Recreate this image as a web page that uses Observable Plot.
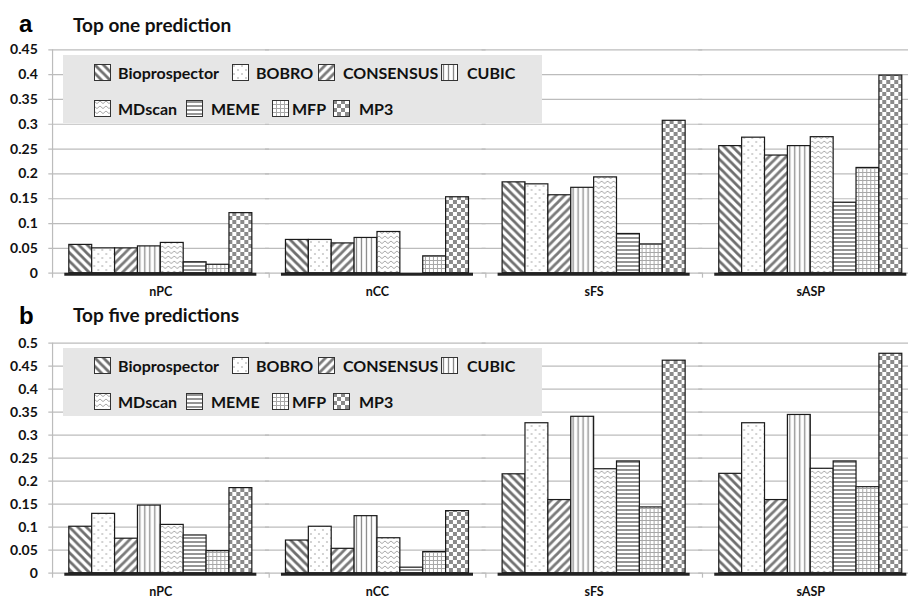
<!DOCTYPE html>
<html>
<head>
<meta charset="utf-8">
<script src="https://cdn.jsdelivr.net/npm/d3@7"></script>
<script src="https://cdn.jsdelivr.net/npm/@observablehq/plot@0.6"></script>
<style>
  body { margin: 0; background: #fff; }
  #root { position: relative; width: 908px; height: 601px; overflow: hidden; font-family: Lato, "Open Sans", sans-serif; }
  .panel { position: absolute; left: 0; }
  .letter { position: absolute; font-family: "Liberation Sans", Arial, sans-serif; font-weight: bold; font-size: 24px; line-height: 1; }
  .title { position: absolute; font-family: Lato, sans-serif; font-weight: bold; font-size: 19px; line-height: 1; color: #111; }
  .legend { position: absolute; left: 63px; width: 479px; height: 68px; background: #e6e6e6; }
  .item { position: absolute; font-family: Lato, sans-serif; font-weight: bold; font-size: 16px; line-height: 16px; color: #111; white-space: nowrap; }
  .sw { position: absolute; }
</style>
</head>
<body>
<svg width="0" height="0" style="position:absolute">
  <defs>
    <pattern id="p0" patternUnits="userSpaceOnUse" width="8.5" height="8.5">
      <rect width="8.5" height="8.5" fill="#fff"/>
      <path d="M-4.25,4.25 L4.25,12.75 M0,0 L8.5,8.5 M4.25,-4.25 L12.75,4.25" stroke="#6e6e6e" stroke-width="2.8"/>
    </pattern>
    <pattern id="p1" patternUnits="userSpaceOnUse" width="8" height="8">
      <rect width="8" height="8" fill="#fff"/>
      <circle cx="2" cy="2" r="0.8" fill="#9a9a9a"/>
      <circle cx="6" cy="6" r="0.8" fill="#9a9a9a"/>
    </pattern>
    <pattern id="p2" patternUnits="userSpaceOnUse" width="8.5" height="8.5">
      <rect width="8.5" height="8.5" fill="#fff"/>
      <path d="M-4.25,4.25 L4.25,-4.25 M0,8.5 L8.5,0 M4.25,12.75 L12.75,4.25" stroke="#7a7a7a" stroke-width="2.8"/>
    </pattern>
    <pattern id="p3" patternUnits="userSpaceOnUse" width="5" height="5">
      <rect width="5" height="5" fill="#fff"/>
      <path d="M2.5,0 L2.5,5" stroke="#8a8a8a" stroke-width="1.3"/>
    </pattern>
    <pattern id="p4" patternUnits="userSpaceOnUse" width="6" height="5">
      <rect width="6" height="5" fill="#fff"/>
      <path d="M0,1 L3,3.6 L6,1" stroke="#a8a8a8" stroke-width="1" fill="none"/>
    </pattern>
    <pattern id="p5" patternUnits="userSpaceOnUse" width="4" height="4">
      <rect width="4" height="4" fill="#fff"/>
      <path d="M0,2 L4,2" stroke="#7a7a7a" stroke-width="1.6"/>
    </pattern>
    <pattern id="p6" patternUnits="userSpaceOnUse" width="4" height="4">
      <rect width="4" height="4" fill="#fff"/>
      <path d="M0,0.5 L4,0.5 M0.5,0 L0.5,4" stroke="#a8a8a8" stroke-width="1"/>
    </pattern>
    <pattern id="p7" patternUnits="userSpaceOnUse" width="8" height="8">
      <rect width="8" height="8" fill="#fff"/>
      <rect x="0" y="0" width="4" height="4" fill="#8a8a8a"/>
      <rect x="4" y="4" width="4" height="4" fill="#8a8a8a"/>
    </pattern>
  </defs>
</svg>
<div id="root">
  <div id="pa" class="panel" style="top:0"></div>
  <div id="pb" class="panel" style="top:300px"></div>
  <div class="letter" style="left:19px;top:12px">a</div>
  <div class="title" style="left:73px;top:15px">Top one prediction</div>
  <div class="letter" style="left:19px;top:304px">b</div>
  <div class="title" style="left:73px;top:305px">Top five predictions</div>
  <div id="lega" class="legend" style="top:55px"></div>
  <div id="legb" class="legend" style="top:348px"></div>
</div>
<script>
const groups = ["nPC", "nCC", "sFS", "sASP"];
const methods = ["Bioprospector", "BOBRO", "CONSENSUS", "CUBIC", "MDscan", "MEME", "MFP", "MP3"];

// Panel a: top one prediction
const topOne_nPC  = [0.057, 0.050, 0.050, 0.054, 0.061, 0.022, 0.017, 0.121];
const topOne_nCC  = [0.067, 0.067, 0.060, 0.071, 0.083, 0.000, 0.034, 0.153];
const topOne_sFS  = [0.183, 0.179, 0.157, 0.172, 0.193, 0.079, 0.058, 0.307];
const topOne_sASP = [0.256, 0.273, 0.237, 0.256, 0.274, 0.142, 0.212, 0.398];

// Panel b: top five predictions
const topFive_nPC  = [0.101, 0.129, 0.075, 0.147, 0.105, 0.082, 0.048, 0.185];
const topFive_nCC  = [0.071, 0.101, 0.053, 0.124, 0.076, 0.012, 0.046, 0.135];
const topFive_sFS  = [0.215, 0.326, 0.159, 0.340, 0.226, 0.243, 0.143, 0.462];
const topFive_sASP = [0.216, 0.326, 0.159, 0.344, 0.227, 0.243, 0.187, 0.477];

const ticksA = [0, 0.05, 0.1, 0.15, 0.2, 0.25, 0.3, 0.35, 0.4, 0.45];
const tickLabelsA = ["0", "0.05", "0.1", "0.15", "0.2", "0.25", "0.3", "0.35", "0.4", "0.45"];
const ticksB = [0, 0.05, 0.1, 0.15, 0.2, 0.25, 0.3, 0.35, 0.4, 0.45, 0.5];
const tickLabelsB = ["0", "0.05", "0.1", "0.15", "0.2", "0.25", "0.3", "0.35", "0.4", "0.45", "0.5"];

const patternIds = methods.map((m, i) => `url(#p${i})`);

function rows(seriesList) {
  const out = [];
  groups.forEach((g, gi) => methods.forEach((m, mi) => out.push({group: g, method: m, value: seriesList[gi][mi]})));
  return out;
}

function panel(data, ticks, labels, height, mTop, mBottom) {
  const fmt = d => labels[ticks.indexOf(d)];
  return Plot.plot({
    width: 908, height,
    marginLeft: 52, marginRight: -10.6, marginTop: mTop, marginBottom: mBottom,
    style: {background: "transparent", overflow: "visible"},
    fx: {domain: groups, paddingInner: 0.1136, paddingOuter: 0.0568, round: false, axis: null, label: null},
    x: {domain: methods, paddingInner: 0, paddingOuter: 0, round: false, insetLeft: 4.5, insetRight: 4.5, axis: null},
    y: {domain: [ticks[0], ticks[ticks.length - 1]], axis: null},
    color: {domain: methods, range: patternIds},
    marks: [
      Plot.ruleY(ticks, {stroke: "#bcbcbc", strokeWidth: 1.2, insetLeft: -16, insetRight: -12.6}),
      Plot.ruleX([groups[0]], {fx: d => d, x: () => methods[0], y1: () => ticks[ticks.length - 1], y2: () => 0,
        dx: -28.2, insetBottom: -5, stroke: "#bcbcbc", strokeWidth: 1.2}),
      Plot.ruleX(groups.slice(1), {fx: d => d, x: () => methods[0], y1: () => 0, y2: () => 0,
        dx: -28.2, insetBottom: -5, stroke: "#bcbcbc", strokeWidth: 1.2}),
      Plot.barY(data, {fx: "group", x: "method", y: "value", fill: "method", stroke: "#1a1a1a", strokeWidth: 1.2}),
      Plot.ruleY([0], {stroke: "#222", strokeWidth: 3, dy: 1}),
      Plot.axisY({ticks, tickFormat: fmt, tickSize: 0, tickPadding: 27, label: null,
        fontSize: 14, fontWeight: "bold", fontFamily: "Lato, sans-serif", fill: "#111"}),
      Plot.axisFx({anchor: "bottom", tickSize: 0, tickPadding: 14, label: null,
        fontSize: 12.5, fontWeight: "bold", fontFamily: "Lato, sans-serif", fill: "#111"})
    ]
  });
}

document.getElementById("pa").appendChild(
  panel(rows([topOne_nPC, topOne_nCC, topOne_sFS, topOne_sASP]), ticksA, tickLabelsA, 300, 49.3, 27.3));
document.getElementById("pb").appendChild(
  panel(rows([topFive_nPC, topFive_nCC, topFive_sFS, topFive_sASP]), ticksB, tickLabelsB, 301, 42.7, 28.3));

// Legends
const legendRows = [[0, 1, 2, 3], [4, 5, 6, 7]];
const swatchLeft = [[31, 169, 255, 378], [31, 123, 209, 270]];
const textLeft = [[55, 193, 280, 404], [55, 148, 229, 296]];
for (const id of ["lega", "legb"]) {
  const box = document.getElementById(id);
  legendRows.forEach((row, r) => {
    row.forEach((mi, k) => {
      const top = r === 0 ? 10 : 46;
      const sw = document.createElementNS("http://www.w3.org/2000/svg", "svg");
      sw.setAttribute("class", "sw");
      sw.setAttribute("width", 17); sw.setAttribute("height", 17);
      sw.style.left = swatchLeft[r][k] + "px"; sw.style.top = (top - 1) + "px";
      const rect = document.createElementNS("http://www.w3.org/2000/svg", "rect");
      rect.setAttribute("x", 0.5); rect.setAttribute("y", 0.5);
      rect.setAttribute("width", 16); rect.setAttribute("height", 16);
      rect.setAttribute("fill", patternIds[mi]); rect.setAttribute("stroke", "#333"); rect.setAttribute("stroke-width", 1);
      sw.appendChild(rect);
      box.appendChild(sw);
      const t = document.createElement("div");
      t.className = "item";
      t.textContent = methods[mi];
      t.style.left = textLeft[r][k] + "px"; t.style.top = top + "px";
      box.appendChild(t);
    });
  });
}
</script>
</body>
</html>
